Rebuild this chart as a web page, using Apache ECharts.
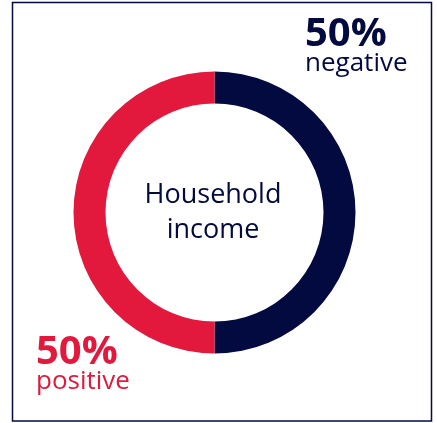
<!DOCTYPE html>
<html>
<head>
<meta charset="utf-8">
<script src="https://cdn.jsdelivr.net/npm/echarts@6/dist/echarts.min.js"></script>
<style>
html,body{margin:0;padding:0;background:#fff;}
#c{width:437px;height:423px;}
</style>
</head>
<body>
<div id="c"></div>
<script>
const categories = ['negative', 'positive'];
const values = [50, 50];
const centerLines = ['Household', 'income'];

const NAVY = '#020a3f';
const RED = '#e2193d';
const FONT = '"Open Sans", "Noto Sans", sans-serif';

const chart = echarts.init(document.getElementById('c'), null, {renderer: 'canvas'});
chart.setOption({
  animation: false,
  backgroundColor: '#ffffff',
  series: [{
    type: 'pie',
    center: [214.5, 212.5],
    radius: [109, 141],
    startAngle: 90,
    clockwise: true,
    label: {show: false},
    labelLine: {show: false},
    emphasis: {disabled: true},
    data: categories.map((c, i) => ({
      name: c,
      value: values[i],
      itemStyle: {color: i === 0 ? NAVY : RED}
    }))
  }],
  graphic: [
    {type: 'rect', shape: {x: 12.5, y: 2.5, width: 419, height: 418.5},
     style: {fill: 'none', stroke: NAVY, lineWidth: 1.5}},
    {type: 'text', x: 305, y: 35, style: {text: values[0] + '%', font: 'bold 40px ' + FONT, fill: NAVY, align: 'left', verticalAlign: 'middle'}},
    {type: 'text', x: 305, y: 64, style: {text: categories[0], font: '26px ' + FONT, fill: NAVY, align: 'left', verticalAlign: 'middle'}},
    {type: 'text', x: 36, y: 353, style: {text: values[1] + '%', font: 'bold 40px ' + FONT, fill: RED, align: 'left', verticalAlign: 'middle'}},
    {type: 'text', x: 36, y: 382, style: {text: categories[1], font: '26px ' + FONT, fill: RED, align: 'left', verticalAlign: 'middle'}},
    {type: 'text', x: 213, y: 195, style: {text: centerLines[0], font: '27px ' + FONT, fill: NAVY, align: 'center', verticalAlign: 'middle'}},
    {type: 'text', x: 213, y: 230, style: {text: centerLines[1], font: '27px ' + FONT, fill: NAVY, align: 'center', verticalAlign: 'middle'}}
  ]
});
</script>
</body>
</html>
